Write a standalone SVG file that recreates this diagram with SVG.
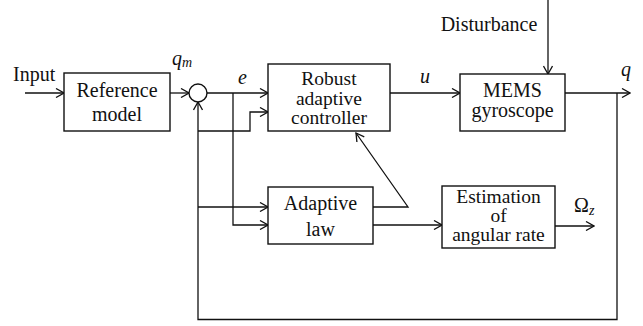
<svg xmlns="http://www.w3.org/2000/svg" width="643" height="326" viewBox="0 0 643 326">
<style>
.box{fill:#fff;stroke:#111;stroke-width:1.4}
.c{fill:none;stroke:#111;stroke-width:1.3}
</style>
<defs>
<marker id="ah" markerUnits="userSpaceOnUse" markerWidth="10" markerHeight="10" viewBox="0 0 10 10" refX="9" refY="5" orient="auto">
<path d="M1,0.5 L9,5 L1,9.5" fill="none" stroke="#111" stroke-width="1.3"/>
</marker>
</defs>
<rect width="643" height="326" fill="#fff"/>
<g id="connectors">
<line class="c" x1="25" y1="93" x2="64" y2="93" marker-end="url(#ah)"/>
<line class="c" x1="170" y1="93" x2="189" y2="93" marker-end="url(#ah)"/>
<line class="c" x1="207" y1="93" x2="268" y2="93" marker-end="url(#ah)"/>
<polyline class="c" points="198,131 250,131 250,112 268,112" marker-end="url(#ah)"/>
<polyline class="c" points="233,93 233,225 268,225" marker-end="url(#ah)"/>
<line class="c" x1="198" y1="207" x2="268" y2="207" marker-end="url(#ah)"/>
<line class="c" x1="390" y1="93" x2="460" y2="93" marker-end="url(#ah)"/>
<line class="c" x1="548" y1="0" x2="548" y2="74" marker-end="url(#ah)"/>
<line class="c" x1="565" y1="93" x2="630" y2="93" marker-end="url(#ah)"/>
<polyline class="c" points="617,93 617,319.5 198,319.5 198,102" marker-end="url(#ah)"/>
<polyline class="c" points="373,207 408,207 356,133" marker-end="url(#ah)"/>
<line class="c" x1="373" y1="225" x2="442" y2="225" marker-end="url(#ah)"/>
<line class="c" x1="555" y1="226" x2="594" y2="226" marker-end="url(#ah)"/>
</g>
<g font-family="Liberation Serif, serif" font-size="20" fill="#111">
<g id="input-label"><text x="13" y="81">Input</text></g>
<g id="reference-model" text-anchor="middle">
<rect class="box" x="64" y="73" width="106" height="58"/>
<text x="117" y="97">Reference</text>
<text x="117" y="121">model</text>
</g>
<g id="sum">
<circle cx="198" cy="93" r="9" fill="#fff" stroke="#111" stroke-width="1.4"/>
</g>
<g id="robust-controller" text-anchor="middle" font-size="19.5">
<rect class="box" x="268" y="64" width="122" height="67"/>
<text x="329" y="85">Robust</text>
<text x="329" y="104.5">adaptive</text>
<text x="329" y="124">controller</text>
</g>
<g id="mems" text-anchor="middle">
<rect class="box" x="460" y="74" width="105" height="57"/>
<text x="512.5" y="97">MEMS</text>
<text x="512.5" y="117">gyroscope</text>
</g>
<g id="adaptive-law" text-anchor="middle">
<rect class="box" x="268" y="187" width="105" height="57"/>
<text x="320.5" y="210">Adaptive</text>
<text x="320.5" y="236">law</text>
</g>
<g id="estimation" text-anchor="middle" font-size="19.5">
<rect class="box" x="442" y="186" width="113" height="62"/>
<text x="498.5" y="203">Estimation</text>
<text x="498.5" y="222">of</text>
<text x="498.5" y="241">angular rate</text>
</g>
<g id="labels">
<text x="489" y="31" text-anchor="middle">Disturbance</text>
<text x="172" y="65" font-style="italic">q<tspan font-size="14" dy="2">m</tspan></text>
<text x="238" y="84" font-style="italic">e</text>
<text x="420" y="83" font-style="italic">u</text>
<text x="621" y="76" font-style="italic">q</text>
<text x="574" y="212">Ω<tspan font-style="italic" font-size="14" dy="3">z</tspan></text>
</g>
</g>
</svg>
